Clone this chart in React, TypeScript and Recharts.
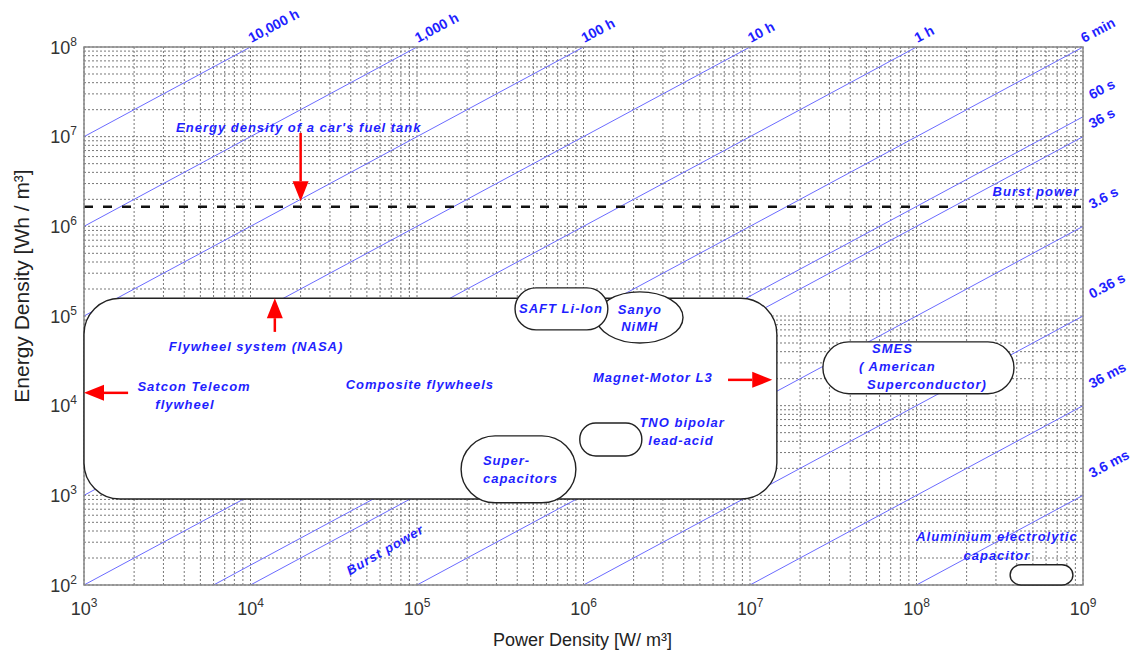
import React from "react";
import {
  ComposedChart,
  Line,
  XAxis,
  YAxis,
  CartesianGrid,
  ReferenceLine,
  ReferenceArea,
  ReferenceDot,
} from "recharts";

const FONT = "'Liberation Sans', Arial, Helvetica, sans-serif";
const BLUE = "#1f1fff";

const xDomain = [1e3, 1e9];
const yDomain = [1e2, 1e8];
const xMajorTicks = [1e3, 1e4, 1e5, 1e6, 1e7, 1e8, 1e9];
const yMajorTicks = [1e2, 1e3, 1e4, 1e5, 1e6, 1e7, 1e8];

// constant discharge time lines (hours)
const dischargeHours = [10000, 1000, 100, 10, 1, 0.1, 1 / 60, 0.01, 0.001, 0.0001, 0.00001, 0.000001];
const dischargeLabels = ["10,000 h", "1,000 h", "100 h", "10 h", "1 h", "6 min", "60 s", "36 s", "3.6 s", "0.36 s", "36 ms", "3.6 ms"];

const fuelTankEnergy = 1.65e6;

// technology regions, power and energy extents
const regionNames = ["Composite flywheels", "Sanyo NiMH", "SAFT Li-Ion", "TNO bipolar lead-acid", "Supercapacitors", "SMES", "Aluminium electrolytic capacitor"];
const regionPower = [[1e3, 1.45e7], [1.2e6, 3.96e6], [3.88e5, 1.4e6], [9.5e5, 2.24e6], [1.84e5, 9.0e5], [2.74e7, 3.85e8], [3.65e8, 8.7e8]];
const regionEnergy = [[910, 1.58e5], [5.0e4, 1.86e5], [7.0e4, 2.06e5], [2750, 6400], [825, 4600], [1.36e4, 5.14e4], [100, 168]];
const regionCorner: (number | "ellipse")[] = [36, "ellipse", 21, 16, 34, 26, 11];

// red arrows: tail -> tip
const arrowTail = [{ p: 2e4, e: 1.1e7 }, { p: 1.4e4, e: 6.65e4 }, { p: 1.84e3, e: 1.39e4 }, { p: 7.38e6, e: 1.94e4 }];
const arrowTip = [{ p: 2e4, e: 1.9e6 }, { p: 1.4e4, e: 1.58e5 }, { p: 1e3, e: 1.39e4 }, { p: 1.36e7, e: 1.94e4 }];

// annotations
const noteTexts = [
  "Energy density of a car's fuel tank", "Burst power", "Flywheel system (NASA)", "Satcon Telecom", "flywheel",
  "Composite flywheels", "SAFT Li-Ion", "Sanyo", "NiMH", "Magnet-Motor L3", "TNO bipolar", "lead-acid",
  "Super-", "capacitors", "SMES", "( American", "Superconductor)", "Aluminium electrolytic", "capacitor", "Burst power",
];
const notePower = [1.95e4, 5.22e8, 1.08e4, 4.58e3, 4.04e3, 1.04e5, 7.33e5, 2.18e6, 2.18e6, 2.61e6, 3.91e6, 3.85e6, 2.49e5, 2.49e5, 5.41e7, 4.52e7, 5.05e7, 3.04e8, 3.04e8, 6.43e4];
const noteEnergy = [1.28e7, 2.42e6, 4.52e4, 1.62e4, 1.02e4, 1.71e4, 1.2e5, 1.17e5, 7.55e4, 2.04e4, 6.43e3, 4.05e3, 2.43e3, 1.53e3, 4.3e4, 2.71e4, 1.71e4, 344, 212, 247];
const noteAnchor = ["middle", "middle", "middle", "middle", "middle", "middle", "middle", "middle", "middle", "middle", "middle", "middle", "start", "start", "start", "start", "start", "middle", "middle", "middle"];
const noteAngle = [0, 0, 0, 0, 0, 0, 0, 0, 0, 0, 0, 0, 0, 0, 0, 0, 0, 0, 0, -30];

const withMinor = (majors: number[]) => {
  const out: number[] = [];
  majors.forEach((m, i) => {
    if (i === majors.length - 1) out.push(m);
    else for (let k = 1; k <= 9; k++) out.push(k * m);
  });
  return out;
};
const xGridTicks = withMinor(xMajorTicks);
const yGridTicks = withMinor(yMajorTicks);

const PowerTick = ({ x, y, payload }: any) => {
  if (!xMajorTicks.includes(payload.value)) return null;
  const exp = Math.round(Math.log10(payload.value));
  return (
    <text x={x} y={y + 22} textAnchor="middle" fill="#333" fontFamily={FONT} fontSize={18}>
      <tspan>10</tspan>
      <tspan dy={-8} fontSize={12}>{exp}</tspan>
    </text>
  );
};

const EnergyTick = ({ x, y, payload }: any) => {
  if (!yMajorTicks.includes(payload.value)) return null;
  const exp = Math.round(Math.log10(payload.value));
  return (
    <text x={x + 1} y={y + 6.5} textAnchor="end" fill="#333" fontFamily={FONT} fontSize={18}>
      <tspan>10</tspan>
      <tspan dy={-8} fontSize={12}>{exp}</tspan>
    </text>
  );
};

const regionShape = (corner: number | "ellipse") => (p: any) =>
  corner === "ellipse" ? (
    <ellipse cx={p.x + p.width / 2} cy={p.y + p.height / 2} rx={p.width / 2} ry={p.height / 2} fill="#fff" stroke="#222" strokeWidth={1.4} />
  ) : (
    <rect x={p.x} y={p.y} width={p.width} height={p.height} rx={corner} ry={corner} fill="#fff" stroke="#222" strokeWidth={1.4} />
  );

const Arrow = (p: any) => {
  const { x1, y1, x2, y2 } = p;
  const a = Math.atan2(y2 - y1, x2 - x1);
  const len = 20;
  const half = 8;
  const bx = x2 - len * Math.cos(a);
  const by = y2 - len * Math.sin(a);
  const nx = -Math.sin(a) * half;
  const ny = Math.cos(a) * half;
  return (
    <g>
      <line x1={x1} y1={y1} x2={bx} y2={by} stroke="#ff0000" strokeWidth={2.5} />
      <polygon points={`${x2},${y2} ${bx + nx},${by + ny} ${bx - nx},${by - ny}`} fill="#ff0000" />
    </g>
  );
};

const noteShape = (text: string, anchor: string, angle: number) => (p: any) => (
  <text
    x={p.cx}
    y={p.cy}
    dy="0.35em"
    textAnchor={anchor as any}
    transform={angle ? `rotate(${angle}, ${p.cx}, ${p.cy})` : undefined}
    fill={BLUE}
    fontFamily={FONT}
    fontSize={13}
    fontWeight="bold"
    fontStyle="italic"
    letterSpacing={1}
  >
    {text}
  </text>
);

const timeShape = (text: string, side: string) => (p: any) => {
  const nudge = text === "36 s" ? 9 : 0;
  const x = p.cx + (side === "top" ? 1 : 9);
  const y = p.cy + (side === "top" ? -4 : -17 + nudge);
  return (
    <text x={x} y={y} transform={`rotate(-28, ${x}, ${y})`} fill={BLUE} fontFamily={FONT} fontSize={14} fontWeight="bold">
      {text}
    </text>
  );
};

const frameShape = (p: any) => (
  <rect x={p.x} y={p.y} width={p.width} height={p.height} fill="none" stroke="#888" strokeWidth={1.5} />
);

export default function App() {
  const lineData = dischargeHours.map((t) => [
    { p: xDomain[0], e: xDomain[0] * t },
    { p: xDomain[1], e: xDomain[1] * t },
  ]);

  const lineEnds = dischargeHours.map((t) => {
    const pTop = yDomain[1] / t;
    return pTop <= xDomain[1] * 1.0001
      ? { p: Math.min(pTop, xDomain[1]), e: yDomain[1], side: "top" }
      : { p: xDomain[1], e: xDomain[1] * t, side: "right" };
  });

  return (
    <div style={{ position: "absolute", left: 0, top: 0, background: "#fff" }}>
      <ComposedChart width={1139} height={655} margin={{ top: 47, right: 56, bottom: 30, left: 24 }}>
        <CartesianGrid stroke="#555" strokeDasharray="2 2" strokeWidth={0.8} />
        <XAxis
          type="number"
          dataKey="p"
          scale="log"
          domain={xDomain}
          allowDataOverflow
          ticks={xGridTicks}
          interval={0}
          tick={<PowerTick />}
          tickLine={false}
          axisLine={false}
          height={40}
          label={(props: any) => {
            const vb = props.viewBox;
            return (
              <text x={vb.x + vb.width / 2 - 1} y={vb.y + 61} textAnchor="middle" fill="#222" fontFamily={FONT} fontSize={18}>
                Power Density [W/ m³]
              </text>
            );
          }}
        />
        <YAxis
          type="number"
          dataKey="e"
          scale="log"
          domain={yDomain}
          allowDataOverflow
          ticks={yGridTicks}
          interval={0}
          tick={<EnergyTick />}
          tickLine={false}
          axisLine={false}
          width={60}
          label={(props: any) => {
            const vb = props.viewBox;
            const cx = vb.x - 2;
            const cy = vb.y + 239;
            return (
              <text x={cx} y={cy} dy="0.35em" textAnchor="middle" transform={`rotate(-90, ${cx}, ${cy})`} fill="#222" fontFamily={FONT} fontSize={21}>
                Energy Density [Wh / m³]
              </text>
            );
          }}
        />

        {lineData.map((d, i) => (
          <Line
            key={`t-${i}`}
            data={d}
            dataKey="e"
            stroke="#6b6bff"
            strokeWidth={1}
            dot={false}
            activeDot={false}
            isAnimationActive={false}
            legendType="none"
            zIndex={400}
          />
        ))}

        <ReferenceLine y={fuelTankEnergy} stroke="#111" strokeWidth={2.5} strokeDasharray="9 10" zIndex={410} />

        <ReferenceArea x1={xDomain[0]} x2={xDomain[1]} y1={yDomain[0]} y2={yDomain[1]} shape={frameShape} ifOverflow="visible" zIndex={450} />

        {regionNames.map((name, i) => (
          <ReferenceArea
            key={name}
            x1={regionPower[i][0]}
            x2={regionPower[i][1]}
            y1={regionEnergy[i][0]}
            y2={regionEnergy[i][1]}
            shape={regionShape(regionCorner[i])}
            ifOverflow="visible"
            zIndex={500 + i}
          />
        ))}

        {arrowTail.map((t, i) => (
          <ReferenceLine
            key={`a-${i}`}
            segment={[{ x: t.p, y: t.e }, { x: arrowTip[i].p, y: arrowTip[i].e }]}
            shape={Arrow}
            ifOverflow="visible"
            zIndex={700}
          />
        ))}

        {lineEnds.map((end, i) => (
          <ReferenceDot
            key={`l-${i}`}
            x={end.p}
            y={end.e}
            r={0}
            shape={timeShape(dischargeLabels[i], end.side)}
            ifOverflow="visible"
            zIndex={800}
          />
        ))}

        {noteTexts.map((text, i) => (
          <ReferenceDot
            key={`n-${i}`}
            x={notePower[i]}
            y={noteEnergy[i]}
            r={0}
            shape={noteShape(text, noteAnchor[i], noteAngle[i])}
            ifOverflow="visible"
            zIndex={800}
          />
        ))}
      </ComposedChart>
    </div>
  );
}
